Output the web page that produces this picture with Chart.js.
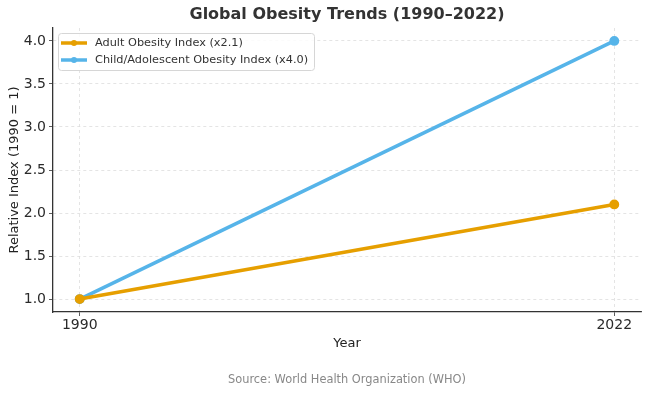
<!DOCTYPE html>
<html lang="en">
<head>
    <meta charset="UTF-8">
    <title>Global Obesity Trends</title>
    <script src="https://cdn.jsdelivr.net/npm/chart.js"></script>
    <style>
        body {
            margin: 0;
            padding: 0;
            background-color: #ffffff;
        }

        .chart-container {
            position: relative;
            width: 650px;
            height: 395px;
        }
    </style>
</head>
<body>
    <div class="chart-container">
        <canvas id="obesityChart" width="650" height="395"></canvas>
    </div>

    <script>
        // data
        const years = [1990, 2022];
        const adultIndex = [1.0, 2.1];
        const childIndex = [1.0, 4.0];
        const yTicks = [1.0, 1.5, 2.0, 2.5, 3.0, 3.5, 4.0];
        const seriesNames = ['Adult Obesity Index (x2.1)', 'Child/Adolescent Obesity Index (x4.0)'];
        const seriesColors = ['#E69F00', '#56B4E9'];

        const FONT = "'DejaVu Sans', sans-serif";

        function toPoints(values) {
            return years.map((year, i) => ({ x: year, y: values[i] }));
        }

        // title, source line and the boxed legend inside the plot
        const decorations = {
            id: 'decorations',
            afterDraw(chart) {
                const ctx = chart.ctx;
                const area = chart.chartArea;
                const centerX = (area.left + area.right) / 2;

                ctx.save();
                ctx.fillStyle = '#333333';
                ctx.font = 'bold 16px ' + FONT;
                ctx.textAlign = 'center';
                ctx.textBaseline = 'middle';
                ctx.fillText('Global Obesity Trends (1990\u20132022)', centerX, 15);

                ctx.fillStyle = '#888888';
                ctx.font = '11.4px ' + FONT;
                ctx.fillText('Source: World Health Organization (WHO)', centerX, 380);

                // legend box
                const boxX = area.left + 5;
                const boxY = area.top + 5;
                const boxW = 256;
                const boxH = 37;
                ctx.fillStyle = 'rgba(255,255,255,0.85)';
                ctx.strokeStyle = '#d6d6d6';
                ctx.lineWidth = 1;
                ctx.beginPath();
                ctx.roundRect(boxX + 0.5, boxY + 0.5, boxW, boxH, 3);
                ctx.fill();
                ctx.stroke();

                ctx.font = '11.3px ' + FONT;
                ctx.textAlign = 'left';
                chart.data.datasets.forEach((ds, i) => {
                    const y = boxY + 10 + i * 17;
                    ctx.strokeStyle = ds.borderColor;
                    ctx.lineWidth = 3.5;
                    ctx.beginPath();
                    ctx.moveTo(boxX + 3, y);
                    ctx.lineTo(boxX + 29, y);
                    ctx.stroke();
                    ctx.fillStyle = ds.borderColor;
                    ctx.beginPath();
                    ctx.arc(boxX + 16, y, 3, 0, Math.PI * 2);
                    ctx.fill();
                    ctx.fillStyle = '#333333';
                    ctx.fillText(ds.label, boxX + 37, y + 0.5);
                });
                ctx.restore();
            }
        };

        const gridStyle = {
            color: '#dddddd',
            lineWidth: 0.8,
            drawTicks: true,
            tickLength: 4,
            tickColor: '#333333'
        };

        new Chart(document.getElementById('obesityChart'), {
            type: 'line',
            data: {
                datasets: [
                    {
                        label: seriesNames[0],
                        data: toPoints(adultIndex),
                        borderColor: seriesColors[0],
                        backgroundColor: seriesColors[0],
                        borderWidth: 3.5,
                        pointRadius: 3.2,
                        pointHoverRadius: 3.2
                    },
                    {
                        label: seriesNames[1],
                        data: toPoints(childIndex),
                        borderColor: seriesColors[1],
                        backgroundColor: seriesColors[1],
                        borderWidth: 3.5,
                        pointRadius: 3.2,
                        pointHoverRadius: 3.2
                    }
                ]
            },
            options: {
                responsive: false,
                animation: false,
                devicePixelRatio: 1,
                layout: {
                    padding: { top: 28, right: 9, bottom: 44, left: 7 }
                },
                plugins: {
                    legend: { display: false },
                    tooltip: { enabled: false }
                },
                scales: {
                    x: {
                        type: 'linear',
                        min: 1988.4,
                        max: 2023.6,
                        afterBuildTicks(axis) {
                            axis.ticks = years.map(v => ({ value: v }));
                        },
                        afterFit(axis) {
                            axis.height = 39;
                        },
                        grid: gridStyle,
                        border: { display: true, color: '#333333', width: 1.3, dash: [3, 3] },
                        ticks: {
                            color: '#2a2a2a',
                            font: { family: FONT, size: 14 },
                            padding: 1,
                            maxRotation: 0,
                            callback: v => String(v)
                        },
                        title: {
                            display: true,
                            text: 'Year',
                            color: '#222222',
                            font: { family: FONT, size: 13 },
                            padding: { top: 2, bottom: 0 }
                        }
                    },
                    y: {
                        min: 0.85,
                        max: 4.15,
                        afterBuildTicks(axis) {
                            axis.ticks = yTicks.map(v => ({ value: v }));
                        },
                        afterFit(axis) {
                            axis.width = 46;
                        },
                        grid: gridStyle,
                        border: { display: true, color: '#333333', width: 1.3, dash: [3, 3] },
                        ticks: {
                            color: '#2a2a2a',
                            font: { family: FONT, size: 14 },
                            padding: 3,
                            callback: v => v.toFixed(1)
                        },
                        title: {
                            display: true,
                            text: 'Relative Index (1990 = 1)',
                            color: '#222222',
                            font: { family: FONT, size: 13 },
                            padding: { top: 0, bottom: 1 }
                        }
                    }
                }
            },
            plugins: [decorations]
        });
    </script>
</body>
</html>
